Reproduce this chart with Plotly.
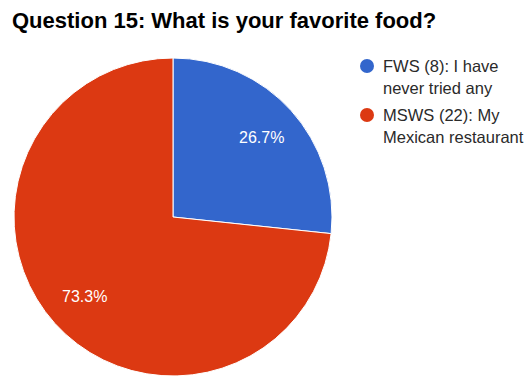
import math
import plotly.graph_objects as go

title = "Question 15: What is your favorite food?"
labels = ["FWS", "MSWS"]
counts = [8, 22]
descriptions = [["I have", "never tried any"], ["My", "Mexican restaurant"]]
colors = ["#3366CC", "#DC3912"]

W, H = 528, 376
FONT = "Liberation Sans, Arial"

def px(x):
    return x / W

def py(y):
    return 1 - y / H

# pie geometry (pixels)
CX, CY, R = 173, 217, 159

fig = go.Figure()
fig.add_trace(go.Pie(
    labels=labels,
    values=counts,
    sort=False,
    direction="clockwise",
    rotation=0,
    marker=dict(colors=colors, line=dict(color="white", width=1)),
    textinfo="none",
    domain=dict(x=[px(CX - R), px(CX + R)], y=[0, py(CY - R)]),
    showlegend=False,
    hoverinfo="label+value+percent",
))

shapes = []
annotations = []

# percentage labels placed at the slice mid-angle, computed from the data
total = sum(counts)
start = 0.0
for cnt in counts:
    frac = cnt / total
    mid = (start + frac / 2) * 2 * math.pi
    start += frac
    lx = CX + 0.745 * R * math.sin(mid)
    ly = CY - 0.745 * R * math.cos(mid)
    annotations.append(dict(text=f"{frac * 100:.1f}%", xref="paper", yref="paper",
                            x=px(lx), y=py(ly), xanchor="center", yanchor="middle",
                            showarrow=False,
                            font=dict(family=FONT, size=16, color="white")))

row_y = [66, 115]
line_gap = 22
for i, (lab, cnt, desc, col) in enumerate(zip(labels, counts, descriptions, colors)):
    cy = row_y[i]
    shapes.append(dict(type="circle", xref="paper", yref="paper",
                       x0=px(360), x1=px(374), y0=py(cy + 7), y1=py(cy - 7),
                       fillcolor=col, line=dict(width=0)))
    lines = [f"{lab} ({cnt}): {desc[0]}"] + desc[1:]
    for j, t in enumerate(lines):
        annotations.append(dict(text=t, xref="paper", yref="paper",
                                x=px(381), y=py(cy + j * line_gap),
                                xanchor="left", yanchor="middle", showarrow=False,
                                font=dict(family=FONT, size=16.5, color="#2a2a2a")))

annotations.append(dict(text=f"<b>{title}</b>", xref="paper", yref="paper",
                        x=px(10), y=py(20), xanchor="left", yanchor="middle", showarrow=False,
                        font=dict(family=FONT, size=22, color="#000000")))

fig.update_layout(
    width=W, height=H,
    margin=dict(l=0, r=0, t=0, b=0),
    paper_bgcolor="white",
    plot_bgcolor="white",
    shapes=shapes,
    annotations=annotations,
)

fig.write_html("out.html")
